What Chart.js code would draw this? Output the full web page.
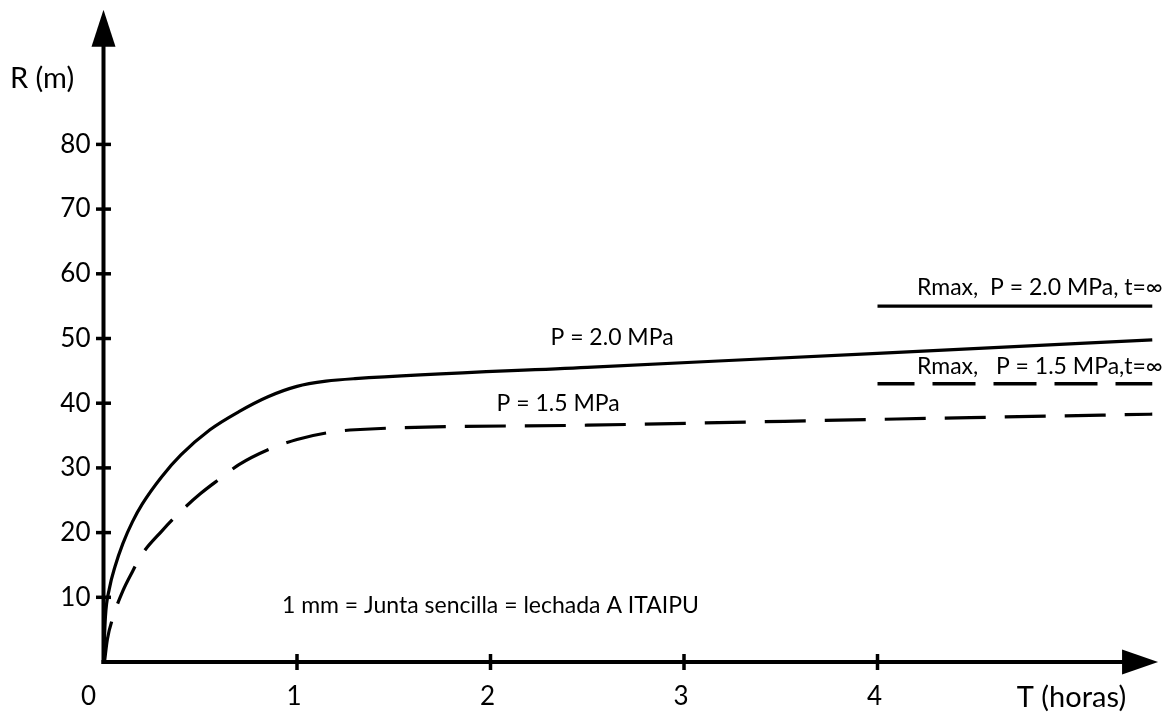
<!DOCTYPE html>
<html>
<head>
<meta charset="utf-8">
<script src="https://cdn.jsdelivr.net/npm/chart.js@4"></script>
<style>
  html, body { margin: 0; padding: 0; background: #fff; }
</style>
</head>
<body>
<canvas id="graficoRadio" width="1169" height="715"></canvas>
<script>
// Datos: radio R (m) contra tiempo T (horas)
const tiempo20 = [0, 0.01, 0.03, 0.06, 0.1, 0.15, 0.2, 0.3, 0.4, 0.55, 0.7, 0.85, 1.0, 1.15, 1.3, 2.5, 4.0, 5.42];
const radio20 = [0, 7.0, 11.3, 14.8, 18.3, 21.7, 24.4, 28.6, 32.0, 35.9, 38.7, 41.0, 42.6, 43.4, 43.8, 45.55, 47.7, 49.8];

const tiempo15 = [0.005, 0.02, 0.05, 0.1, 0.15, 0.2, 0.3, 0.4, 0.5, 0.6, 0.7, 0.85, 1.0, 1.15, 1.3, 2.5, 4.0, 5.42];
const radio15 = [0, 3.5, 7.0, 11.0, 14.0, 16.7, 20.2, 23.3, 26.0, 28.3, 30.5, 32.8, 34.4, 35.4, 35.9, 36.6, 37.5, 38.3];

const tiempoRmax = [4.0, 5.42];
const rmax20 = [55, 55];
const rmax15 = [43, 43];

const ticksX = [0, 1, 2, 3, 4];
const ticksY = [10, 20, 30, 40, 50, 60, 70, 80];

const textos = [
  { texto: "P = 2.0 MPa", x: 2.628, y: 50.2, align: "center" },
  { texto: "P = 1.5 MPa", x: 2.349, y: 40.0, align: "center" },
  { texto: "Rmax,  P = 2.0 MPa, t=\u221E", x: 4.204, y: 57.9, align: "left" },
  { texto: "Rmax,   P = 1.5 MPa,t=\u221E", x: 4.204, y: 45.6, align: "left" },
  { texto: "1 mm = Junta sencilla = lechada A ITAIPU", x: 0.922, y: 8.66, align: "left" }
];

function puntos(xs, ys) {
  return xs.map((x, i) => ({ x: x, y: ys[i] }));
}

const FUENTE = "Lato, 'Open Sans', sans-serif";

// Ejes con flechas, marcas y textos
const ejesPlugin = {
  id: "ejes",
  afterDatasetsDraw(chart) {
    const ctx = chart.ctx;
    const sx = chart.scales.x;
    const sy = chart.scales.y;
    const x0 = sx.getPixelForValue(0);
    const y0 = sy.getPixelForValue(0);
    const xFin = sx.getPixelForValue(5.45);
    const yFin = sy.getPixelForValue(100.8);

    ctx.save();
    ctx.strokeStyle = "#000";
    ctx.fillStyle = "#000";
    ctx.lineWidth = 4;
    ctx.lineCap = "butt";

    // eje Y
    ctx.beginPath();
    ctx.moveTo(x0, y0 + 2);
    ctx.lineTo(x0, yFin + 34);
    ctx.stroke();
    ctx.beginPath();
    ctx.moveTo(x0, yFin);
    ctx.lineTo(x0 - 12, yFin + 37);
    ctx.lineTo(x0 + 12, yFin + 37);
    ctx.closePath();
    ctx.fill();

    // eje X
    ctx.beginPath();
    ctx.moveTo(x0 - 2, y0);
    ctx.lineTo(xFin - 34, y0);
    ctx.stroke();
    ctx.beginPath();
    ctx.moveTo(xFin, y0);
    ctx.lineTo(xFin - 36, y0 - 12.5);
    ctx.lineTo(xFin - 36, y0 + 12.5);
    ctx.closePath();
    ctx.fill();

    // marcas
    ctx.lineWidth = 3.5;
    ticksY.forEach(v => {
      const py = sy.getPixelForValue(v);
      ctx.beginPath();
      ctx.moveTo(x0 - 7.5, py);
      ctx.lineTo(x0 + 7.5, py);
      ctx.stroke();
    });
    ticksX.filter(v => v > 0).forEach(v => {
      const px = sx.getPixelForValue(v);
      ctx.beginPath();
      ctx.moveTo(px, y0 - 8);
      ctx.lineTo(px, y0 + 8);
      ctx.stroke();
    });

    // etiquetas de los ejes
    ctx.font = "26px " + FUENTE;
    ctx.textBaseline = "middle";
    ctx.textAlign = "right";
    ticksY.forEach(v => {
      ctx.fillText(String(v), x0 - 13, sy.getPixelForValue(v));
    });
    ctx.textAlign = "center";
    ticksX.forEach(v => {
      const px = v === 0 ? x0 - 15 : sx.getPixelForValue(v) - 3;
      ctx.fillText(String(v), px, y0 + 35);
    });
    ctx.font = "29px " + FUENTE;
    ctx.textAlign = "left";
    ctx.fillText("R (m)", 10, sy.getPixelForValue(90.1));
    ctx.fillText("T (horas)", sx.getPixelForValue(4.72), y0 + 36);

    // anotaciones
    ctx.font = "23px " + FUENTE;
    textos.forEach(t => {
      ctx.textAlign = t.align;
      ctx.fillText(t.texto, sx.getPixelForValue(t.x), sy.getPixelForValue(t.y));
    });
    ctx.restore();
  }
};

new Chart(document.getElementById("graficoRadio"), {
  type: "scatter",
  data: {
    datasets: [
      {
        label: "P = 2.0 MPa",
        data: puntos(tiempo20, radio20),
        showLine: true,
        borderColor: "#000",
        borderWidth: 3.2,
        pointRadius: 0,
        cubicInterpolationMode: "monotone",
        clip: false
      },
      {
        label: "P = 1.5 MPa",
        data: puntos(tiempo15, radio15),
        showLine: true,
        borderColor: "#000",
        borderWidth: 3.2,
        borderDash: [41, 19],
        pointRadius: 0,
        cubicInterpolationMode: "monotone",
        clip: false
      },
      {
        label: "Rmax 2.0",
        data: puntos(tiempoRmax, rmax20),
        showLine: true,
        borderColor: "#000",
        borderWidth: 3.4,
        pointRadius: 0,
        clip: false
      },
      {
        label: "Rmax 1.5",
        data: puntos(tiempoRmax, rmax15),
        showLine: true,
        borderColor: "#000",
        borderWidth: 3.4,
        borderDash: [43, 18],
        borderDashOffset: 6,
        pointRadius: 0,
        clip: false
      }
    ]
  },
  options: {
    responsive: false,
    animation: false,
    layout: {
      padding: { left: 103.5, right: 1.25, top: 2.06, bottom: 53 }
    },
    plugins: {
      legend: { display: false },
      tooltip: { enabled: false }
    },
    scales: {
      x: { type: "linear", min: 0, max: 5.5, display: false },
      y: { min: 0, max: 102, display: false }
    }
  },
  plugins: [ejesPlugin]
});
</script>
</body>
</html>
